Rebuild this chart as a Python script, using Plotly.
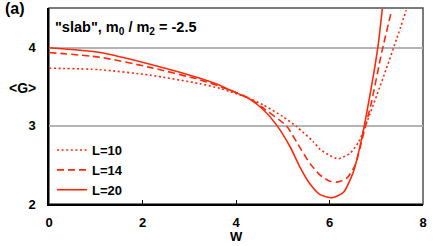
import plotly.graph_objects as go

# L=10 (dotted)
W10 = [0, 1.09, 2.16, 3.23, 3.66, 3.87, 4.30, 4.58, 5.00, 5.30, 5.65, 5.80, 6.01, 6.19, 6.44, 6.62, 6.80, 7.01, 7.22, 7.44, 7.64]
G10 = [3.74, 3.72, 3.65, 3.54, 3.48, 3.44, 3.35, 3.27, 3.12, 2.99, 2.80, 2.70, 2.62, 2.58, 2.65, 2.79, 3.05, 3.39, 3.74, 4.12, 4.48]
# L=14 (dashed)
W14 = [0, 1.09, 2.16, 3.23, 3.87, 4.30, 4.58, 5.08, 5.30, 5.58, 5.80, 6.01, 6.15, 6.37, 6.55, 6.72, 6.90, 7.12, 7.33]
G14 = [3.94, 3.88, 3.75, 3.59, 3.46, 3.35, 3.23, 3.00, 2.79, 2.52, 2.37, 2.29, 2.28, 2.33, 2.50, 2.88, 3.31, 3.95, 4.48]
# L=20 (solid)
W20 = [0, 1.09, 2.16, 3.23, 3.61, 3.87, 4.30, 4.58, 4.87, 5.16, 5.37, 5.58, 5.80, 6.05, 6.30, 6.51, 6.69, 6.80, 6.94, 7.04, 7.13]
G20 = [4.00, 3.94, 3.79, 3.61, 3.53, 3.46, 3.34, 3.21, 3.01, 2.73, 2.47, 2.26, 2.12, 2.08, 2.15, 2.41, 2.84, 3.18, 3.65, 4.03, 4.50]

labels = ["L=10", "L=14", "L=20"]
xticks = [0, 2, 4, 6, 8]
yticks = [2, 3, 4]

RED = "rgb(255,40,10)"
FONT = "Liberation Sans, Arial, sans-serif"

fig = go.Figure()
series = [(W10, G10, labels[0], "2px,2.6px"), (W14, G14, labels[1], "7px,4px"), (W20, G20, labels[2], "solid")]
for w, g, name, dash in series:
    fig.add_trace(go.Scatter(x=w, y=g, mode="lines", name=name,
                             line=dict(color=RED, width=1.6, dash=dash, shape="spline", smoothing=0.6)))

fig.update_layout(
    width=436, height=246,
    margin=dict(l=49, r=13, t=8, b=42),
    paper_bgcolor="white", plot_bgcolor="white",
    font=dict(family=FONT, size=13, color="black", weight="bold"),
    showlegend=True,
    legend=dict(x=0.008, y=-0.005, xanchor="left", yanchor="bottom",
                bgcolor="rgba(0,0,0,0)", font=dict(size=13, weight="bold"),
                tracegroupgap=0),
    xaxis=dict(range=[0, 8], tickvals=xticks, ticks="inside", ticklen=4, tickwidth=1.2,
               tickcolor="black", showgrid=False, zeroline=False,
               showline=True, linecolor="black", linewidth=1.5,
               ticklabelstandoff=6, tickfont=dict(size=13, weight="bold")),
    yaxis=dict(range=[2, 4.51], tickvals=yticks, ticks="", showgrid=True,
               gridcolor="#b4b4b4", gridwidth=1.5, zeroline=False,
               showline=True, linecolor="black", linewidth=1.5,
               ticklabelstandoff=9, tickfont=dict(size=13, weight="bold")),
    shapes=[dict(type="rect", xref="paper", yref="paper", x0=0, x1=1, y0=0, y1=1,
                 line=dict(color="#505050", width=1.5), layer="below")],
    annotations=[
        dict(text="(a)", xref="paper", yref="paper", x=-0.123, y=0.995, xanchor="left",
             yanchor="middle", showarrow=False, font=dict(size=16, weight="bold")),
        dict(text='"slab", m<sub>0</sub> / m<sub>2</sub> = -2.5', xref="paper", yref="paper",
             x=0.01, y=0.90, xanchor="left", yanchor="middle", showarrow=False,
             font=dict(size=14.5, weight="bold")),
        dict(text="&lt;G&gt;", xref="paper", yref="y", x=-0.072, y=3.49, xanchor="center",
             yanchor="middle", showarrow=False, font=dict(size=14, weight="bold")),
        dict(text="W", xref="x", yref="paper", x=4, y=-0.165, xanchor="center",
             yanchor="middle", showarrow=False, font=dict(size=13, weight="bold")),
    ],
)

fig.write_html("out.html", config={"displayModeBar": False},
               post_script="document.body.style.margin='0px';document.body.style.overflow='hidden';")
